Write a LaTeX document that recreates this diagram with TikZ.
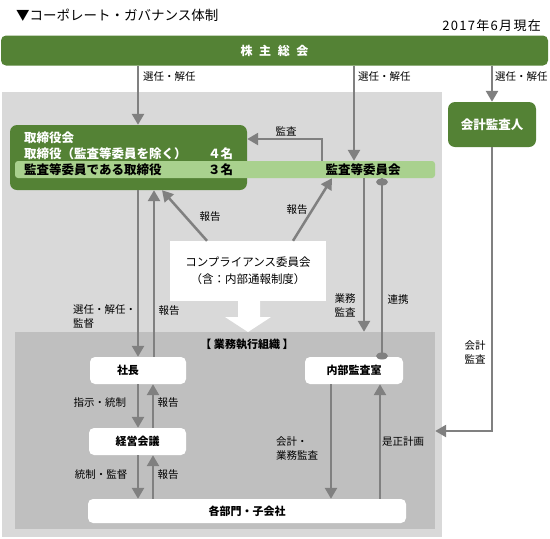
\documentclass[tikz,border=0pt]{standalone}
\usepackage{fontspec}
\setmainfont{Noto Sans CJK JP}
\usetikzlibrary{arrows.meta,calc}
\definecolor{dgreen}{HTML}{548235}
\definecolor{lgreen}{HTML}{A9D18E}
\definecolor{outergray}{HTML}{D9D9D9}
\definecolor{innergray}{HTML}{BFBFBF}
\definecolor{arrgray}{HTML}{808080}
\begin{document}
\begin{tikzpicture}[x=1pt,y=-1pt,
  lbl/.style={inner sep=0pt, font=\fontsize{10.5}{13}\selectfont},
  boldlbl/.style={inner sep=0pt, font=\bfseries\fontsize{12.5}{14}\selectfont},
  greenbox/.style={fill=dgreen, rounded corners=7pt, inner sep=0pt, text=white, font=\bfseries\fontsize{12.5}{14}\selectfont},
  whitebox/.style={fill=white, rounded corners=5pt, inner sep=0pt, font=\bfseries\fontsize{11}{13}\selectfont},
  region/.style={inner sep=0pt, draw=none},
  arr/.style={draw=arrgray, line width=2.5pt, -{Triangle[width=12pt,length=11pt]}},
  link/.style={draw=arrgray, line width=2.5pt},
  dot/.style={fill=arrgray}
]
\useasboundingbox (0,0) rectangle (550,539);
% title and date
\node[anchor=west, inner sep=0pt, font=\fontsize{13.5}{15}\selectfont] (title) at (16,15) {▼コーポレート・ガバナンス体制};
\node[anchor=east, inner sep=0pt, font=\fontsize{13}{15}\selectfont\addfontfeature{LetterSpace=10}] (date) at (541,26) {2017年6月現在};
% shareholders meeting
\node[greenbox, rounded corners=5pt, minimum width=547pt, minimum height=30pt, font=\bfseries\fontsize{12}{14}\selectfont] (soukai) at (274.5,50.5) {株\hspace{0.55em}主\hspace{0.55em}総\hspace{0.55em}会};
% regions
\node[region, fill=outergray, minimum width=440pt, minimum height=445pt] (outer) at (222,314.5) {};
\node[region, fill=innergray, minimum width=420pt, minimum height=197pt] (gyomu) at (225,430.5) {};
\node[inner sep=0pt, font=\bfseries\fontsize{11}{13}\selectfont] (gyomulbl) at (247,344) {【 業務執行組織 】};
% board
\node[greenbox, minimum width=237pt, minimum height=65pt] (board) at (128.5,157.5) {};
\node[fill=lgreen, rounded corners=3pt, inner sep=0pt, minimum width=420pt, minimum height=17pt] (band) at (225,169.5) {};
\node[boldlbl, text=white, anchor=west] (b1) at (24,137.5) {取締役会};
\node[boldlbl, text=white, anchor=west] (b2) at (24,153.5) {取締役（監査等委員を除く）};
\node[boldlbl, text=white, anchor=west] (b2n) at (208,153.5) {４名};
\node[boldlbl, anchor=west] (b3) at (24,169.5) {監査等委員である取締役};
\node[boldlbl, anchor=west] (b3n) at (208,169.5) {３名};
\node[boldlbl] (iinkai) at (363,170) {監査等委員会};
% accounting auditor
\node[greenbox, minimum width=88pt, minimum height=45pt] (kaikei) at (492,124.5) {会計監査人};
% compliance
\node[fill=white, inner sep=0pt, minimum width=156pt, minimum height=60pt, align=center, font=\fontsize{11.5}{17}\selectfont] (comp) at (248,271) {コンプライアンス委員会\\（含：内部通報制度）};
\fill[white] (238,300) -- (238,317) -- (225,317) -- (248,332) -- (271,317) -- (260,317) -- (260,300) -- cycle;
% execution boxes
\node[whitebox, minimum width=96pt, minimum height=27pt] (shacho) at (138,370.5) {};
\node[inner sep=0pt, font=\bfseries\fontsize{11}{13}\selectfont] (shacholbl) at (128,370.5) {社長};
\node[whitebox, minimum width=97pt, minimum height=27pt] (keiei) at (137.5,441.5) {経営会議};
\node[whitebox, minimum width=318pt, minimum height=24pt] (kakubu) at (247,511) {各部門・子会社};
\node[whitebox, minimum width=98pt, minimum height=27pt] (naibu) at (354,370.5) {内部監査室};
% arrows from shareholders
\draw[arr] (soukai.south -| 138,0) -- (board.north -| 138,0);
\draw[arr] (soukai.south -| 354,0) -- (band.north -| 354,0);
\draw[arr] (soukai.south -| 492,0) -- (kaikei.north);
\node[lbl, anchor=west] at (143,77) {選任・解任};
\node[lbl, anchor=west] at (358,77) {選任・解任};
\node[lbl, anchor=west] at (495,77) {選任・解任};
% audit to board
\draw[arr] (band.north -| 322,0) |- (board.east |- 0,139);
\node[lbl] at (286,131) {監査};
% compliance reports
\draw[arr] (comp.north -| 207,0) -- (board.south -| 162,0);
\draw[arr] (comp.north -| 293,0) -- (band.south -| 332,0);
\node[lbl] at (210,217) {報告};
\node[lbl] at (297,210) {報告};
% board <-> president
\draw[arr] (board.south -| 138,0) -- (shacho.north -| 138,0);
\draw[arr] (shacho.north -| 154,0) -- (board.south -| 154,0);
\node[lbl, anchor=west, align=left, font=\fontsize{10.5}{13.5}\selectfont] at (73,316.5) {選任・解任・\\監督};
\node[lbl] at (169,311) {報告};
% president <-> management meeting
\draw[arr] (shacho.south -| 138,0) -- (keiei.north -| 138,0);
\draw[arr] (keiei.north -| 153,0) -- (shacho.south -| 153,0);
\node[lbl] at (100,403) {指示・統制};
\node[lbl] at (168,403) {報告};
% management meeting <-> departments
\draw[arr] (keiei.south -| 138,0) -- (kakubu.north -| 138,0);
\draw[arr] (kakubu.north -| 153,0) -- (keiei.south -| 153,0);
\node[lbl] at (101,475) {統制・監督};
\node[lbl] at (168,475) {報告};
% audit committee -> execution
\draw[arr] (band.south -| 364,0) -- (gyomu.north -| 364,0);
\node[lbl, align=center, font=\fontsize{10.5}{14}\selectfont] at (345,305) {業務\\監査};
\draw[link] (band.south -| 382,0) -- (naibu.north -| 382,0);
\fill[dot] (382,182) ellipse [x radius=6pt, y radius=3.5pt];
\fill[dot] (382,356) ellipse [x radius=6pt, y radius=3.5pt];
\node[lbl] at (398,300) {連携};
% internal audit <-> departments
\draw[arr] (naibu.south -| 331,0) -- (kakubu.north -| 331,0);
\draw[arr] (kakubu.north -| 380,0) -- (naibu.south -| 380,0);
\node[lbl, anchor=west, align=left, font=\fontsize{10.5}{13.5}\selectfont] at (276,448.5) {会計・\\業務監査};
\node[lbl, anchor=west] at (382,442) {是正計画};
% accounting audit
\draw[arr] (kaikei.south) |- (gyomu.east |- 0,431);
\node[lbl, align=center, font=\fontsize{10.5}{14}\selectfont] at (475,352) {会計\\監査};
\end{tikzpicture}
\end{document}
